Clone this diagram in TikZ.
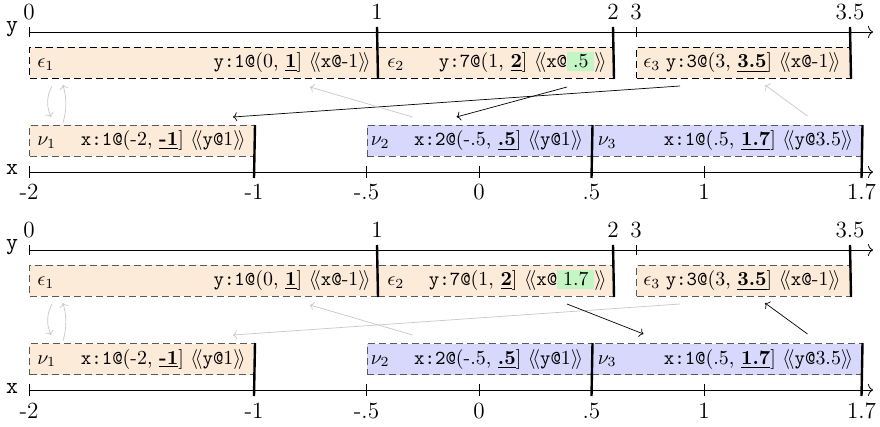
\documentclass[tikz,border=0pt]{standalone}
\usetikzlibrary{calc,arrows.meta}
\definecolor{boxorange}{HTML}{FDEBD9}
\definecolor{boxblue}{HTML}{D8D8FC}
\definecolor{hlgreen}{HTML}{C4F5C4}
\newcommand{\dl}{\ensuremath{\langle\!\langle}}
\newcommand{\dr}{\ensuremath{\rangle\!\rangle}}
\newcommand{\ul}[1]{\underline{\textbf{#1}}}
\newcommand{\hlbox}[1]{{\setlength{\fboxsep}{1.3pt}\colorbox{hlgreen}{\,#1\,}}}
\tikzset{
  axisline/.style={line width=0.8pt,-{To[length=5pt,width=12pt]}},
  thintick/.style={line width=0.7pt},
  bar/.style={line width=2.4pt},
  boxbase/.style={dash pattern=on 7pt off 4pt, line width=1pt, inner sep=0pt,
    minimum height=31pt, anchor=north west},
  ebox/.style={boxbase, fill=boxorange},
  nobox/.style={boxbase, fill=boxorange, draw=black!65},
  nbbox/.style={boxbase, fill=boxblue, draw=black!65},
  boxtext/.style={font=\normalsize, scale=1.99, inner sep=0pt},
  axislabel/.style={font=\large, scale=1.93, inner sep=0pt, anchor=base},
  arr/.style={line width=0.7pt,-{To[length=4pt,width=9pt]}},
  garr/.style={arr, draw=black!22},
}
% #1 name prefix, #2 highlighted text, #3 epsilon box border colour
\newcommand{\drawpanel}[3]{%
  % y axis
  \node[axislabel] (#1ylab) at (12,32) {\texttt{y}};
  \coordinate (#1ys) at (29,32);
  \coordinate (#1ye) at (873,32);
  \draw[axisline] (#1ys) -- (#1ye);
  \node[axislabel] (#1y0) at (29,20) {0};
  \node[axislabel] (#1y1) at (377,20) {1};
  \node[axislabel] (#1y2) at (613,20) {2};
  \node[axislabel] (#1y3) at (636,20) {3};
  \node[axislabel] (#1y35) at (850,20) {3.5};
  % epsilon boxes
  \node[ebox, draw=#3, minimum width=348pt] (#1e1) at (29,47) {};
  \node[ebox, draw=#3, minimum width=236pt] (#1e2) at (377,47) {};
  \node[ebox, draw=#3, minimum width=214pt] (#1e3) at (636,47) {};
  \draw[thintick] (29,27) -- (29,37);
  \draw[thintick] (636,27) -- (636,37);
  \draw[bar] (377,27) -- (#1e1.south east);
  \draw[bar] (613,27) -- (#1e2.south east);
  \draw[bar] (850,27) -- (#1e3.south east);
  \node[boxtext, anchor=base west] (#1e1l) at ($(#1e1.north west)+(8,21)$) {$\epsilon_1$};
  \node[boxtext, anchor=base east] (#1e1t) at ($(#1e1.north east)+(-7,21)$)
    {\texttt{y:1@}(0, \ul{1}] \dl\texttt{x@}-1\dr};
  \node[boxtext, anchor=base west] (#1e2l) at ($(#1e2.north west)+(10,21)$) {$\epsilon_2$};
  \node[boxtext, anchor=base east] (#1e2t) at ($(#1e2.north east)+(-7,21)$)
    {\texttt{y:7@}(1, \ul{2}] \dl\texttt{x@}\hlbox{#2}\dr};
  \node[boxtext, anchor=base west] (#1e3l) at ($(#1e3.north west)+(7,21)$) {$\epsilon_3$};
  \node[boxtext, anchor=base east] (#1e3t) at ($(#1e3.north east)+(-10,21)$)
    {\texttt{y:3@}(3, \ul{3.5}] \dl\texttt{x@}-1\dr};
  % x axis
  \node[axislabel] (#1xlab) at (12,175) {\texttt{x}};
  \coordinate (#1xs) at (29,172);
  \coordinate (#1xe) at (873,172);
  \draw[axisline] (#1xs) -- (#1xe);
  \node[axislabel] (#1xm2) at (29,200) {-2};
  \node[axislabel] (#1xm1) at (254,200) {-1};
  \node[axislabel] (#1xm05) at (366.5,200) {-.5};
  \node[axislabel] (#1x0) at (479,200) {0};
  \node[axislabel] (#1x05) at (591.5,200) {.5};
  \node[axislabel] (#1x1) at (704,200) {1};
  \node[axislabel] (#1x17) at (861.5,200) {1.7};
  % nu boxes
  \node[nobox, minimum width=225pt] (#1n1) at (29,125) {};
  \node[nbbox, minimum width=225pt] (#1n2) at (366.5,125) {};
  \node[nbbox, minimum width=270pt] (#1n3) at (591.5,125) {};
  \draw[thintick] (29,166) -- (29,178);
  \draw[thintick] (366.5,166) -- (366.5,178);
  \draw[thintick] (479,166) -- (479,178);
  \draw[thintick] (704,166) -- (704,178);
  \draw[bar] (#1n1.north east) -- (254,178);
  \draw[bar] (#1n2.north east) -- (591.5,178);
  \draw[bar] (#1n3.north east) -- (861.5,178);
  \node[boxtext, anchor=base west] (#1n1l) at ($(#1n1.north west)+(8,21)$) {$\nu_1$};
  \node[boxtext, anchor=base east] (#1n1t) at ($(#1n1.north east)+(-9,21)$)
    {\texttt{x:1@}(-2, \ul{-1}] \dl\texttt{y@}1\dr};
  \node[boxtext, anchor=base west] (#1n2l) at ($(#1n2.north west)+(4,21)$) {$\nu_2$};
  \node[boxtext, anchor=base east] (#1n2t) at ($(#1n2.north east)+(-9,21)$)
    {\texttt{x:2@}(-.5, \ul{.5}] \dl\texttt{y@}1\dr};
  \node[boxtext, anchor=base west] (#1n3l) at ($(#1n3.north west)+(6,21)$) {$\nu_3$};
  \node[boxtext, anchor=base east] (#1n3t) at ($(#1n3.north east)+(-9,21)$)
    {\texttt{x:1@}(.5, \ul{1.7}] \dl\texttt{y@}3.5\dr};
  % small curved links between epsilon_1 and nu_1
  \draw[garr] ($(#1e1.south west)+(23,7)$) to[bend right=25] ($(#1n1.north west)+(22,-8)$);
  \draw[garr] ($(#1n1.north west)+(34,-2)$) to[bend right=15] ($(#1e1.south west)+(34,6)$);
}
\begin{document}
\begin{tikzpicture}[x=1pt,y=-1pt]
  \useasboundingbox (0,0) rectangle (880,427);
  \drawpanel{a}{.5}{black}
  \draw[arr] ($(ae3.south west)+(44,7)$) -- ($(an1.north east)+(-22,-8)$);
  \draw[arr] ($(ae2.south west)+(190,8)$) -- ($(an2.north west)+(90,-8)$);
  \draw[garr] ($(an2.north west)+(46,-8)$) -- ($(ae1.south west)+(281,8)$);
  \draw[garr] ($(an3.north west)+(216,-9)$) -- ($(ae3.south west)+(129,6)$);
  \begin{scope}[yshift=-218pt]
    \drawpanel{b}{1.7}{black!65}
    \draw[garr] ($(be3.south west)+(44,7)$) -- ($(bn1.north east)+(-22,-8)$);
    \draw[arr] ($(be2.south west)+(190,7)$) -- ($(bn3.north west)+(52,-9)$);
    \draw[garr] ($(bn2.north west)+(46,-8)$) -- ($(be1.south west)+(281,8)$);
    \draw[arr] ($(bn3.north west)+(216,-9)$) -- ($(be3.south west)+(129,6)$);
  \end{scope}
\end{tikzpicture}
\end{document}
